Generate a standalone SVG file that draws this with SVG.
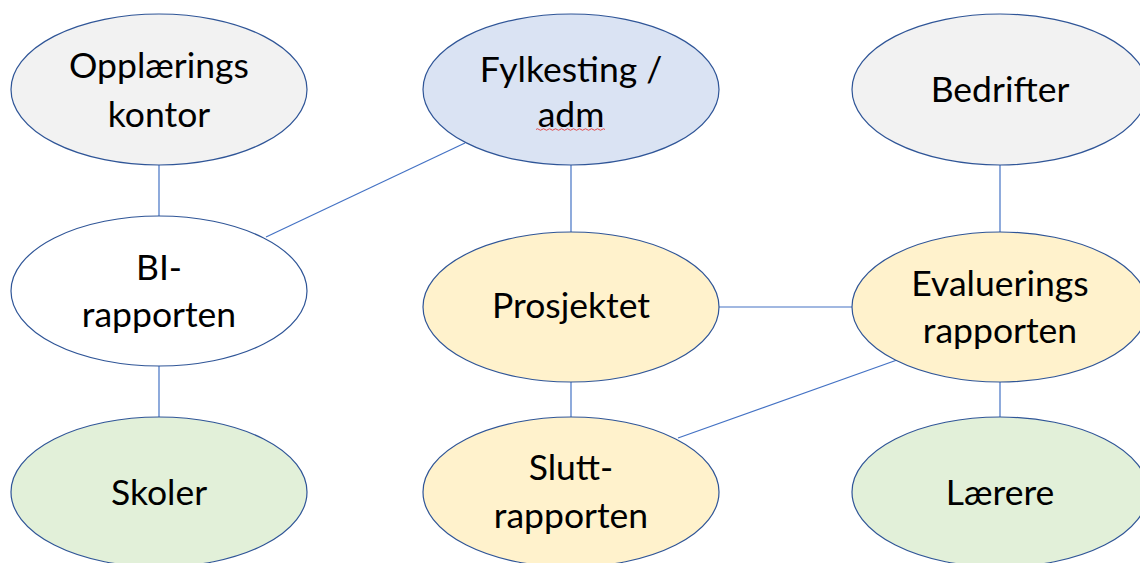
<svg xmlns="http://www.w3.org/2000/svg" width="1140" height="563" viewBox="0 0 1140 563">
  <style>
    .node { stroke: #2f5597; stroke-width: 1.2; }
    .gray { fill: #f2f2f2; }
    .blue { fill: #dae3f3; }
    .yellow { fill: #fff2cc; }
    .green { fill: #e2f0d9; }
    .white { fill: #ffffff; }
    .label { font-family: Lato, "Open Sans", sans-serif; font-size: 35.5px; fill: #000000; text-anchor: middle; }
    .edge { stroke: #4472c4; stroke-width: 1.2; fill: none; }
  </style>
  <rect width="1140" height="563" fill="#ffffff"/>

  <g id="connectors">
    <line class="edge" x1="159" y1="165" x2="159" y2="216"/>
    <line class="edge" x1="465" y1="143" x2="266" y2="237"/>
    <line class="edge" x1="571" y1="165" x2="571" y2="232"/>
    <line class="edge" x1="1000" y1="165" x2="1000" y2="232"/>
    <line class="edge" x1="159" y1="366" x2="159" y2="417"/>
    <line class="edge" x1="719" y1="307" x2="852" y2="307"/>
    <line class="edge" x1="571" y1="382" x2="571" y2="417"/>
    <line class="edge" x1="1000" y1="382" x2="1000" y2="417"/>
    <line class="edge" x1="897" y1="360" x2="678" y2="438"/>
  </g>

  <g id="opplaeringskontor">
    <ellipse class="node gray" cx="159" cy="89.5" rx="148" ry="75.5"/>
    <text class="label" x="159" y="78">Opplærings</text>
    <text class="label" x="159" y="127">kontor</text>
  </g>

  <g id="fylkesting">
    <ellipse class="node blue" cx="571" cy="89.5" rx="148" ry="75.5"/>
    <text class="label" x="571" y="82">Fylkesting /</text>
    <text class="label" x="571" y="127">adm</text>
    <!-- spell-check underline -->
    <path d="M536 129.5 q1.5 -1.5 3 0 t3 0 t3 0 t3 0 t3 0 t3 0 t3 0 t3 0 t3 0 t3 0 t3 0 t3 0 t3 0 t3 0 t3 0 t3 0 t3 0 t3 0 t3 0 t3 0 t3 0 t3 0 t3 0" fill="none" stroke="#e03c3c" stroke-width="0.9"/>
  </g>

  <g id="bedrifter">
    <ellipse class="node gray" cx="1000" cy="89.5" rx="148" ry="75.5"/>
    <text class="label" x="1000" y="102">Bedrifter</text>
  </g>

  <g id="bi-rapporten">
    <ellipse class="node white" cx="159" cy="291" rx="148" ry="75"/>
    <text class="label" x="159" y="280">BI-</text>
    <text class="label" x="159" y="327">rapporten</text>
  </g>

  <g id="prosjektet">
    <ellipse class="node yellow" cx="571" cy="307" rx="148" ry="75"/>
    <text class="label" x="571" y="318">Prosjektet</text>
  </g>

  <g id="evalueringsrapporten">
    <ellipse class="node yellow" cx="1000" cy="307" rx="148" ry="75"/>
    <text class="label" x="1000" y="296">Evaluerings</text>
    <text class="label" x="1000" y="343">rapporten</text>
  </g>

  <g id="skoler">
    <ellipse class="node green" cx="159" cy="492" rx="148" ry="75"/>
    <text class="label" x="159" y="505">Skoler</text>
  </g>

  <g id="sluttrapporten">
    <ellipse class="node yellow" cx="571" cy="492" rx="148" ry="75"/>
    <text class="label" x="571" y="480">Slutt-</text>
    <text class="label" x="571" y="528">rapporten</text>
  </g>

  <g id="laerere">
    <ellipse class="node green" cx="1000" cy="492" rx="148" ry="75"/>
    <text class="label" x="1000" y="505">Lærere</text>
  </g>
</svg>
